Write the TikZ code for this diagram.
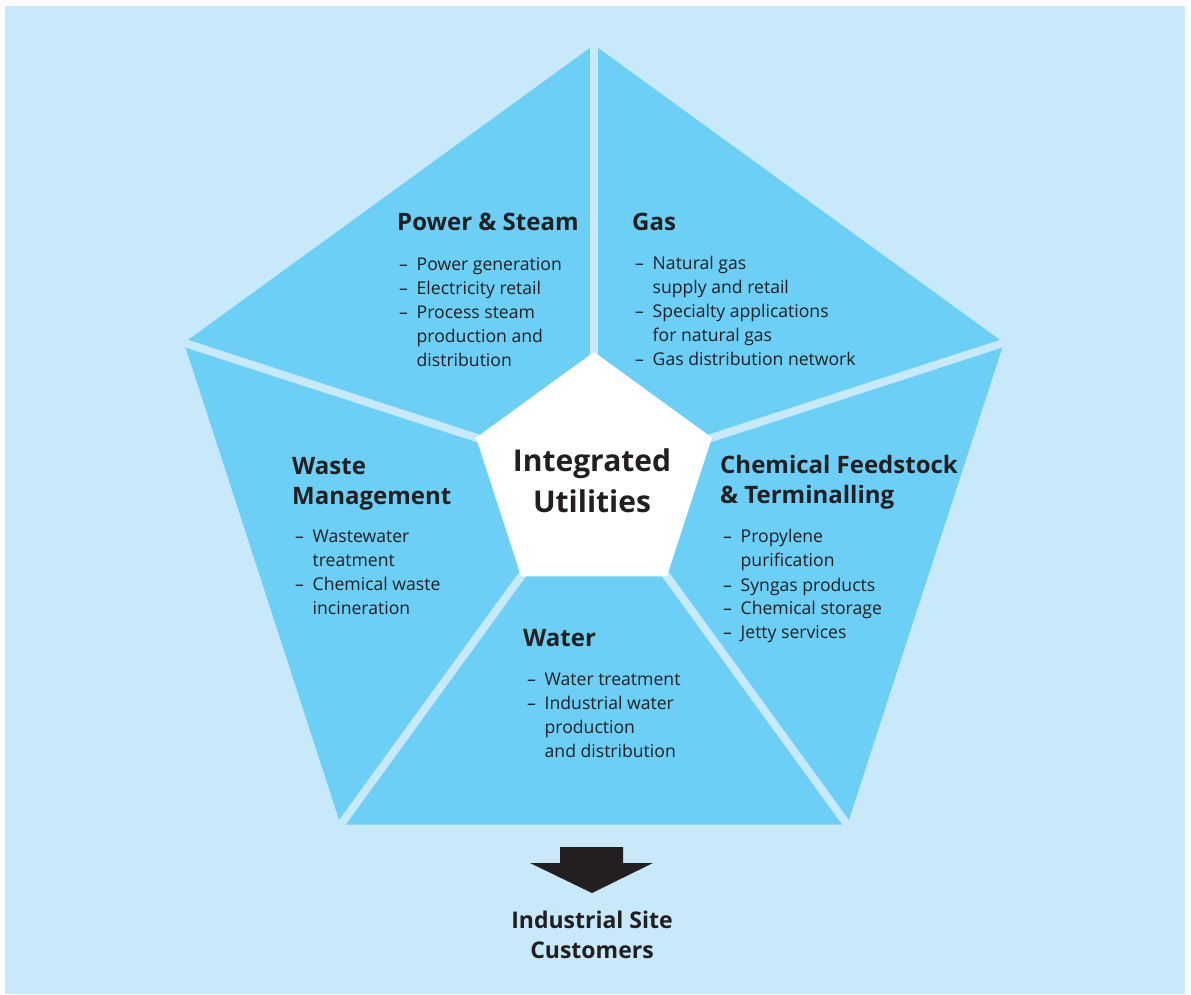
\documentclass[tikz,border=0pt]{standalone}
\usepackage{fontspec}
\setmainfont{Open Sans}
\usepackage{tikz}
\usetikzlibrary{positioning}
\definecolor{bgblue}{HTML}{C7E9F9}
\definecolor{segblue}{HTML}{6CCFF6}
\definecolor{inkgray}{HTML}{231F20}
\newcommand{\itm}{\makebox[17.5pt][l]{–}}
\newcommand{\cnt}{\hspace*{17.5pt}}

\begin{document}
\begin{tikzpicture}[x=1pt,y=1pt,
	head/.style={font=\bfseries\fontsize{24}{30}\selectfont, text=inkgray, align=left, inner sep=0pt, anchor=base west},
	items/.style={font=\fontsize{17.6}{24}\selectfont, text=inkgray, align=left, inner sep=0pt, anchor=base west},
	gap/.style={line width=8pt, draw=bgblue}]
	\useasboundingbox (0,0) rectangle (1191,994);
	\fill[bgblue] (5,0) rectangle (1185,988);
	\begin{scope}[shift={(594,518)}]
	\fill[segblue] (90:431) -- (162:431) -- (234:431) -- (306:431) -- (18:431) -- cycle;
	\draw[gap] (90:120) -- (90:440);
	\draw[gap] (162:120) -- (162:440);
	\draw[gap] (234:120) -- (234:440);
	\draw[gap] (306:120) -- (306:440);
	\draw[gap] (18:120) -- (18:440);
	\fill[white] (90:124) -- (162:124) -- (234:124) -- (306:124) -- (18:124) -- cycle;
	\end{scope}
	\node[font=\bfseries\fontsize{30}{41}\selectfont, text=inkgray, align=center, inner sep=0pt, anchor=base] (core) at (592,481) {Integrated\\Utilities};

	\node[head] (pshead) at (397,763) {Power \& Steam};
	\node[items] (pslist) at ([shift={(2,-136)}]pshead.base west) {\itm Power generation\\ \itm Electricity retail\\ \itm Process steam\\ \cnt production and\\ \cnt distribution};

	\node[head] (gashead) at (632,763) {Gas};
	\node[items] (gaslist) at ([shift={(3,-135)}]gashead.base west) {\itm Natural gas\\ \cnt supply and retail\\ \itm Specialty applications\\ \cnt for natural gas\\ \itm Gas distribution network};

	\node[head] (chemhead) at (720,490) {Chemical Feedstock\\\& Terminalling};
	\node[items] (chemlist) at ([shift={(3,-135)}]chemhead.base west) {\itm Propylene\\ \cnt purification\\ \itm Syngas products\\ \itm Chemical storage\\ \itm Jetty services};

	\node[head] (wastehead) at (292,489) {Waste\\Management};
	\node[items] (wastelist) at ([shift={(3,-110)}]wastehead.base west) {\itm Wastewater\\ \cnt treatment\\ \itm Chemical waste\\ \cnt incineration};

	\node[head] (waterhead) at (523,347) {Water};
	\node[items] (waterlist) at ([shift={(4,-110)}]waterhead.base west) {\itm Water treatment\\ \itm Industrial water\\ \cnt production\\ \cnt and distribution};

	\node[font=\bfseries\fontsize{23}{30}\selectfont, text=inkgray, align=center, inner sep=0pt, anchor=base] (customers) at (592,36) {Industrial Site\\Customers};
	\fill[inkgray] (560,147) -- (623,147) -- (623,131) -- (653,131) -- (592,101) -- (530,131) -- (560,131) -- cycle;
\end{tikzpicture}
\end{document}
